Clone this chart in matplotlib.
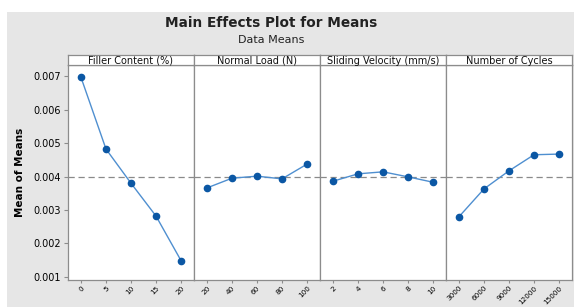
import matplotlib
matplotlib.use("Agg")
import matplotlib.pyplot as plt
from matplotlib.patches import Rectangle

# ---- data ----
factors = ["Filler Content (%)", "Normal Load (N)", "Sliding Velocity (mm/s)", "Number of Cycles"]
filler_levels = ["0", "5", "10", "15", "20"]
filler_means = [0.00696, 0.00482, 0.00380, 0.00282, 0.00149]
load_levels = ["20", "40", "60", "80", "100"]
load_means = [0.00366, 0.00395, 0.00401, 0.00393, 0.00437]
velocity_levels = ["2", "4", "6", "8", "10"]
velocity_means = [0.00386, 0.00408, 0.00414, 0.00399, 0.00383]
cycle_levels = ["3000", "6000", "9000", "12000", "15000"]
cycle_means = [0.00280, 0.00363, 0.00417, 0.00465, 0.00467]
grand_mean = 0.00398
y_ticks = [0.001, 0.002, 0.003, 0.004, 0.005, 0.006, 0.007]

levels = [filler_levels, load_levels, velocity_levels, cycle_levels]
means = [filler_means, load_means, velocity_means, cycle_means]

W, H = 574, 307
fig = plt.figure(figsize=(W / 100, H / 100), dpi=100, facecolor="white")
fig.patches.append(Rectangle((7 / W, 0), 1 - 7 / W, 1 - 12 / H, transform=fig.transFigure,
                             facecolor="#e6e6e6", edgecolor="none", zorder=-10))

fig.text(271 / W, 1 - 23 / H, "Main Effects Plot for Means", ha="center", va="center",
         fontsize=9.8, fontweight="bold", color="#222222")
fig.text(271 / W, 1 - 40 / H, "Data Means", ha="center", va="center",
         fontsize=8, color="#222222")

left0 = 68
pw = 126
top_strip = 55
top_ax = 65
bottom_ax = 280
spine_col = "#8c8c8c"

for i in range(4):
    x0 = left0 + i * pw
    ax = fig.add_axes([x0 / W, 1 - bottom_ax / H, pw / W, (bottom_ax - top_ax) / H])
    ax.set_facecolor("white")
    xs = list(range(len(levels[i])))
    ax.axhline(grand_mean, color="#8a8a8a", lw=0.9, ls=(0, (5, 3)), zorder=1)
    ax.plot(xs, means[i], color="#4f8fd0", lw=1.0, zorder=2)
    ax.plot(xs, means[i], ls="none", marker="o", ms=4.5, color="#0b57a4", zorder=3)
    ax.set_xlim(-0.52, 4.52)
    ax.set_ylim(0.00091, 0.00733)
    ax.set_xticks(xs)
    ax.set_xticklabels(levels[i], rotation=45, fontsize=5.2, ha="right", rotation_mode="anchor")
    ax.tick_params(axis="x", length=2.5, color=spine_col, pad=1)
    for s in ax.spines.values():
        s.set_color(spine_col)
        s.set_linewidth(0.9)
    if i == 0:
        ax.set_yticks(y_ticks)
        ax.set_yticklabels([f"{v:.3f}" for v in y_ticks], fontsize=7)
        ax.tick_params(axis="y", length=3, color=spine_col, pad=2)
        ax.set_ylabel("Mean of Means", fontsize=7.5, fontweight="bold", labelpad=6)
    else:
        ax.set_yticks([])
    # strip header
    sx = fig.add_axes([x0 / W, 1 - top_ax / H, pw / W, (top_ax - top_strip) / H])
    sx.set_facecolor("white")
    sx.set_xticks([])
    sx.set_yticks([])
    for s in sx.spines.values():
        s.set_color(spine_col)
        s.set_linewidth(0.9)
    sx.text(0.5, 0.45, factors[i], ha="center", va="center", fontsize=7,
            transform=sx.transAxes, color="#111111")

fig.savefig("out.png", dpi=100, facecolor=fig.get_facecolor())
